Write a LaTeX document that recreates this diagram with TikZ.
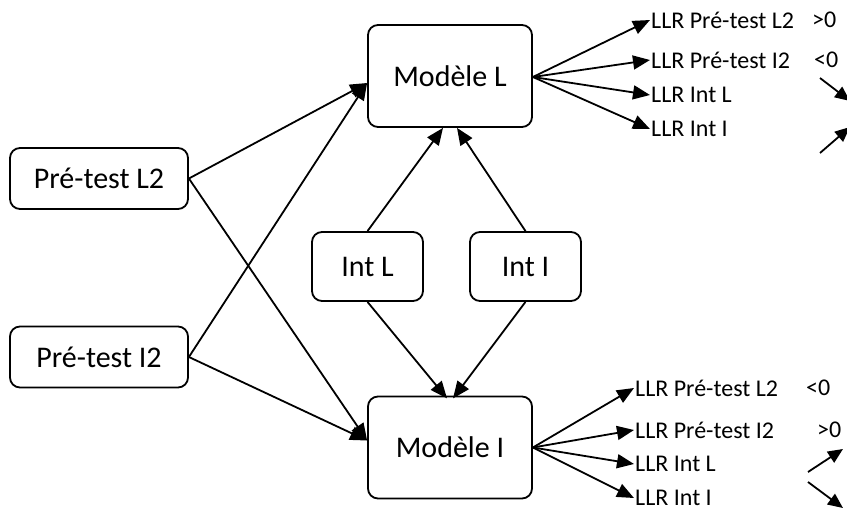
\documentclass[tikz,border=0pt]{standalone}
\usepackage{fontspec}
\setmainfont{Carlito}
\usetikzlibrary{arrows.meta,calc}
\begin{document}
\begin{tikzpicture}[x=1pt,y=-1pt,
  box/.style={draw,line width=1.8pt,rounded corners=10pt,inner sep=0pt,font=\fontsize{30}{34}\selectfont},
  lab/.style={anchor=west,inner sep=1pt,font=\fontsize{24}{28}\selectfont},
  arr/.style={line width=1.8pt,-{Triangle[length=17pt,width=14pt]}},
  larr/.style={line width=1.8pt,-{Triangle[length=15pt,width=13pt]}}]
\useasboundingbox (0,0) rectangle (847,512);
\node[box,minimum width=164pt,minimum height=102pt] (ml) at (450,76) {Modèle L};
\node[box,minimum width=164pt,minimum height=102pt] (mi) at (450,447.5) {Modèle I};
\node[box,minimum width=178pt,minimum height=61pt] (pl) at (99,178.5) {Pré-test L2};
\node[box,minimum width=178pt,minimum height=61pt] (pi) at (99,357) {Pré-test I2};
\node[box,minimum width=111pt,minimum height=69pt] (il) at (367.5,266.5) {Int L};
\node[box,minimum width=111pt,minimum height=69pt] (ii) at (525.5,266.5) {Int I};
% left connectors
\draw[arr] (pl.east) -- ($(ml.west)+(0,7)$);
\draw[arr] (pi.east) -- ($(ml.west)+(0,7)$);
\draw[arr] (pl.east) -- ($(mi.west)+(0,-7)$);
\draw[arr] (pi.east) -- ($(mi.west)+(0,-7)$);
% int connectors
\draw[arr] (il.north) -- ($(ml.south)+(-7,0)$);
\draw[arr] (ii.north) -- ($(ml.south)+(7,0)$);
\draw[arr] (il.south) -- ($(mi.south)+(-3,-101)$);
\draw[arr] (ii.south) -- ($(mi.south)+(3,-101)$);
% top outputs
\node[lab] (t1) at (650,20) {LLR Pré-test L2};
\node[lab] (t2) at (650,60) {LLR Pré-test I2};
\node[lab] (t3) at (650,95) {LLR Int L};
\node[lab] (t4) at (650,129) {LLR Int I};
\node[lab] (s1) at (811,20) {>0};
\node[lab] (s2) at (813,60) {<0};
\coordinate (ml0) at ($(ml.east)+(0,1)$);
\draw[arr] (ml0) -- (t1.west);
\draw[arr] (ml0) -- (t2.west);
\draw[arr] (ml0) -- (t3.west);
\draw[arr] (ml0) -- (t4.west);
\coordinate (a1) at (820,78); \coordinate (a2) at (850,101);
\coordinate (a3) at (820,153); \coordinate (a4) at (850,127);
\draw[larr] (a1) -- (a2);
\draw[larr] (a3) -- (a4);
% bottom outputs
\node[lab] (b1) at (634,388) {LLR Pré-test L2};
\node[lab] (b2) at (634,430) {LLR Pré-test I2};
\node[lab] (b3) at (634,464) {LLR Int L};
\node[lab] (b4) at (634,498) {LLR Int I};
\node[lab] (r1) at (805,388) {<0};
\node[lab] (r2) at (816,430) {>0};
\coordinate (mi0) at ($(mi.east)+(0,0)$);
\draw[arr] (mi0) -- (b1.west);
\draw[arr] (mi0) -- (b2.west);
\draw[arr] (mi0) -- (b3.west);
\draw[arr] (mi0) -- (b4.west);
\coordinate (c1) at (808,472); \coordinate (c2) at (843,449);
\coordinate (c3) at (808,482); \coordinate (c4) at (843,508);
\draw[larr] (c1) -- (c2);
\draw[larr] (c3) -- (c4);
\end{tikzpicture}
\end{document}
